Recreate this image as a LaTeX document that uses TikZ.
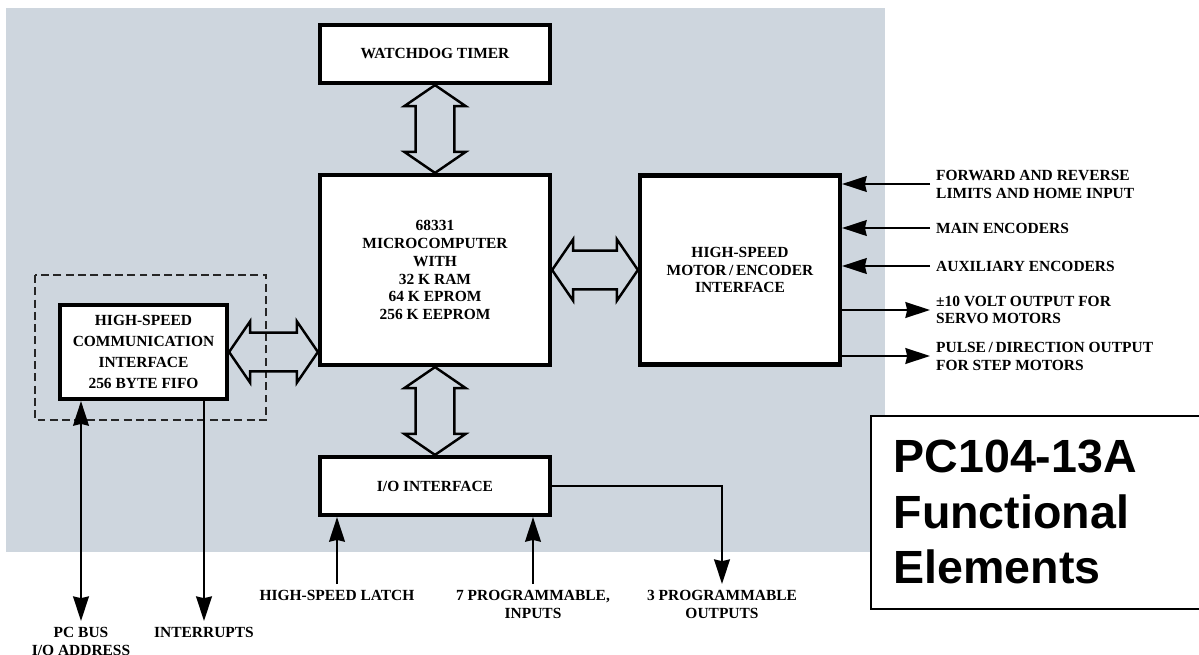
\documentclass[tikz,border=0pt]{standalone}
\usepackage{fontspec}
\setmainfont{Liberation Serif}
\newfontfamily\titlefont{Liberation Sans}
\usetikzlibrary{positioning, arrows.meta, calc}

\definecolor{panelgray}{RGB}{206,214,222}

\newcommand{\bushead}{17.5pt}
\newcommand{\busshaft}{11pt}
\newcommand{\bustip}{12pt}

% hollow bus arrow, box above to box below
\newcommand{\vbus}[2]{%
  \draw[bus] let \p1=(#1.south), \p2=(#2.north) in
    (\x1,\y1) -- (\x1+\bushead,\y1-\bustip) -- (\x1+\busshaft,\y1-\bustip)
    -- (\x1+\busshaft,\y2+\bustip) -- (\x1+\bushead,\y2+\bustip) -- (\x1,\y2)
    -- (\x1-\bushead,\y2+\bustip) -- (\x1-\busshaft,\y2+\bustip)
    -- (\x1-\busshaft,\y1-\bustip) -- (\x1-\bushead,\y1-\bustip) -- cycle;}

% hollow bus arrow, box left to box right
\newcommand{\hbus}[2]{%
  \draw[bus] let \p1=(#1.east), \p2=(#2.west) in
    (\x1,\y1) -- (\x1+\bustip,\y1+\bushead) -- (\x1+\bustip,\y1+\busshaft)
    -- (\x2-\bustip,\y1+\busshaft) -- (\x2-\bustip,\y1+\bushead) -- (\x2,\y1)
    -- (\x2-\bustip,\y1-\bushead) -- (\x2-\bustip,\y1-\busshaft)
    -- (\x1+\bustip,\y1-\busshaft) -- (\x1+\bustip,\y1-\bushead) -- cycle;}

\begin{document}
\begin{tikzpicture}[
  x=0.02cm, y=-0.02cm,
  every node/.style={font=\fontsize{8.8}{10.2}\selectfont\bfseries, align=center},
  block/.style={draw, fill=white, line width=2.4pt, rectangle},
  label_right/.style={anchor=west, align=left},
  label_below/.style={anchor=north},
  bus/.style={line width=1.4pt, line join=miter},
  arrow/.style={-{Stealth[length=14pt, width=9pt, inset=1pt]}, line width=1.1pt},
  dblarrow/.style={{Stealth[length=14pt, width=9pt, inset=1pt]}-{Stealth[length=14pt, width=9pt, inset=1pt]}, line width=1.1pt}
]
\useasboundingbox (0,0) rectangle (1199,655);

% Background panel
\fill[panelgray] (6,8) rectangle (885,552);
\draw[gray!30!black, line width=0.8pt, dash pattern=on 4.5pt off 2.5pt] (35,275) rectangle (266,420);

% Blocks
\node[block, minimum width=4.6cm, minimum height=1.16cm] (wd) at (435,54) {WATCHDOG TIMER};
\node[block, minimum width=4.6cm, minimum height=3.8cm] (mc) at (435,270)
  {68331\\MICROCOMPUTER\\WITH\\32 K RAM\\64 K EPROM\\256 K EEPROM};
\node[block, minimum width=4.0cm, minimum height=3.78cm] (motor) at (740,270)
  {HIGH-SPEED\\MOTOR\,/\,ENCODER\\INTERFACE};
\node[block, minimum width=3.34cm, minimum height=1.88cm,
  font=\fontsize{8.8}{11.9}\selectfont\bfseries] (comm) at (143.5,352)
  {HIGH-SPEED\\COMMUNICATION\\INTERFACE\\256 BYTE FIFO};
\node[block, minimum width=4.6cm, minimum height=1.16cm] (io) at (435,486) {I/O INTERFACE};

% Buses
\vbus{wd}{mc}
\vbus{mc}{io}
\hbus{mc}{motor}
\hbus{comm}{mc}

% Motor signals
\node[label_right] (fwd) at (930,184) {FORWARD AND REVERSE\\LIMITS AND HOME INPUT};
\node[label_right] (mainenc) at (930,228) {MAIN ENCODERS};
\node[label_right] (auxenc) at (930,266) {AUXILIARY ENCODERS};
\node[label_right] (servo) at (930,310) {±10 VOLT OUTPUT FOR\\SERVO MOTORS};
\node[label_right] (stepper) at (930,356) {PULSE\,/\,DIRECTION OUTPUT\\FOR STEP MOTORS};

\draw[arrow] (fwd.west) -- (fwd.west -| motor.east);
\draw[arrow] (mainenc.west) -- (mainenc.west -| motor.east);
\draw[arrow] (auxenc.west) -- (auxenc.west -| motor.east);
\draw[arrow] (servo.west -| motor.east) -- (servo.west);
\draw[arrow] (stepper.west -| motor.east) -- (stepper.west);

% Bus and I/O signals
\node[label_below] (pcbus) at (81,621) {PC BUS\\I/O ADDRESS};
\node[label_below] (intr) at (204,621) {INTERRUPTS};
\node[label_below] (latch) at (337,584) {HIGH-SPEED LATCH};
\node[label_below] (inputs) at (533,584) {7 PROGRAMMABLE,\\INPUTS};
\node[label_below] (outputs) at (722,584) {3 PROGRAMMABLE\\OUTPUTS};

\draw[dblarrow] (pcbus.north |- comm.south) -- (pcbus.north);
\draw[arrow] (intr.north |- comm.south) -- (intr.north);
\draw[arrow] (latch.north) -- (latch.north |- io.south);
\draw[arrow] (inputs.north) -- (inputs.north |- io.south);
\draw[arrow] (io.east) -| (outputs.north);

% Title
\node[draw, line width=0.9pt, fill=white, anchor=north west, minimum width=6.7cm,
  minimum height=3.86cm, inner xsep=13pt, text width=6cm, align=left,
  font=\titlefont\fontsize{26.5}{31.7}\selectfont\bfseries] (title) at (870,415)
  {PC104-13A\\Functional\\Elements};

\end{tikzpicture}
\end{document}
